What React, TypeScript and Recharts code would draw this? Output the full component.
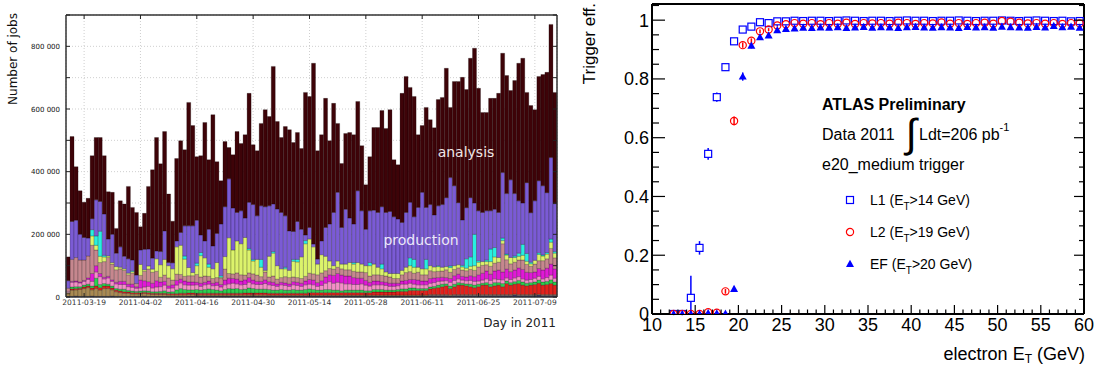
import React from "react";
import {
  Bar,
  BarChart,
  CartesianGrid,
  ErrorBar,
  Legend,
  Scatter,
  ScatterChart,
  XAxis,
  YAxis,
} from "recharts";

// ---- left panel: jobs per day (values in thousands) ----
const firstDay = Date.UTC(2011, 2, 15);
const days = Array.from({ length: 122 }, (_, i) =>
  new Date(firstDay + i * 86400000).toISOString().slice(0, 10)
);
const dayTicks = [
  "2011-03-19", "2011-04-02", "2011-04-16", "2011-04-30", "2011-05-14",
  "2011-05-28", "2011-06-11", "2011-06-25", "2011-07-09",
];
const jobTicks = [0, 100, 200, 300, 400, 500, 600, 700, 800, 900];

const totalJobs = [
  128, 512, 416, 339, 302, 315, 451, 509, 509, 451,
  336, 334, 219, 307, 297, 353, 286, 270, 224, 267,
  353, 406, 509, 425, 528, 329, 242, 442, 499, 470,
  621, 547, 448, 451, 557, 438, 582, 432, 371, 496,
  477, 454, 528, 490, 518, 650, 486, 467, 554, 598,
  576, 736, 560, 509, 544, 534, 493, 525, 474, 653,
  640, 746, 467, 518, 634, 499, 618, 554, 426, 522,
  525, 518, 624, 483, 358, 448, 541, 541, 595, 538,
  598, 438, 422, 650, 704, 669, 640, 518, 547, 605,
  566, 540, 630, 637, 730, 605, 688, 688, 701, 662,
  762, 794, 666, 589, 589, 634, 634, 650, 778, 707,
  659, 691, 746, 762, 653, 611, 598, 704, 710, 717,
  870, 653,
];

// top of the production (purple) layer
const productionTop = [
  52, 241, 245, 200, 190, 188, 250, 310, 305, 265,
  185, 200, 140, 160, 130, 122, 118, 70, 150, 152,
  153, 124, 147, 145, 211, 110, 109, 179, 206, 227,
  227, 227, 245, 198, 179, 216, 163, 203, 233, 288,
  377, 284, 270, 275, 252, 302, 295, 259, 291, 288,
  291, 297, 281, 270, 259, 211, 209, 241, 216, 198,
  222, 169, 121, 179, 222, 233, 270, 334, 222, 280,
  252, 233, 339, 275, 216, 275, 277, 270, 288, 270,
  273, 256, 249, 238, 270, 302, 256, 286, 334, 286,
  295, 262, 291, 295, 317, 381, 355, 301, 246, 285,
  317, 300, 275, 270, 275, 275, 280, 270, 397, 330,
  374, 330, 307, 300, 365, 269, 307, 371, 355, 333,
  445, 298,
];

const navyJobs = [
  2, 2, 3, 2, 2, 2, 3, 2, 2, 2,
  2, 3, 2, 2, 2, 2, 2, 2, 2, 3,
  2, 2, 2, 2, 2, 2, 2, 2, 2, 2,
  3, 3, 3, 3, 3, 3, 3, 3, 3, 3,
  3, 3, 3, 3, 3, 3, 3, 3, 3, 3,
  3, 3, 3, 3, 3, 3, 3, 3, 3, 3,
  3, 3, 3, 3, 3, 3, 3, 3, 3, 3,
  3, 3, 3, 3, 3, 3, 3, 3, 3, 3,
  3, 3, 3, 3, 3, 3, 3, 3, 3, 3,
  5, 5, 5, 5, 5, 4, 5, 5, 5, 5,
  5, 5, 5, 5, 5, 5, 5, 5, 5, 5,
  5, 6, 5, 5, 5, 5, 5, 6, 5, 5,
  5, 5,
];
const tanJobs = [
  8, 20, 20, 22, 25, 28, 20, 25, 20, 25,
  25, 20, 15, 12, 10, 10, 8, 8, 8, 8,
  8, 6, 6, 6, 6, 5, 5, 5, 5, 5,
  5, 5, 4, 4, 4, 4, 4, 4, 4, 4,
  4, 4, 4, 4, 4, 4, 4, 4, 4, 4,
  3, 3, 3, 3, 3, 3, 3, 3, 3, 3,
  3, 3, 3, 3, 3, 3, 3, 3, 3, 3,
  3, 3, 3, 3, 3, 3, 3, 3, 3, 3,
  3, 3, 3, 3, 3, 3, 3, 3, 3, 3,
  3, 3, 3, 3, 3, 3, 3, 3, 3, 3,
  3, 3, 3, 3, 3, 3, 3, 3, 3, 3,
  3, 3, 3, 3, 3, 3, 3, 3, 3, 3,
  3, 3,
];
const redJobs = [
  2, 4, 4, 4, 5, 5, 6, 8, 8, 8,
  8, 6, 5, 5, 5, 4, 4, 4, 4, 4,
  4, 4, 4, 4, 4, 4, 4, 4, 5, 5,
  5, 5, 5, 5, 5, 5, 5, 5, 5, 5,
  5, 5, 5, 5, 6, 6, 6, 6, 6, 6,
  6, 6, 6, 6, 6, 6, 6, 6, 6, 6,
  8, 8, 8, 8, 8, 8, 8, 8, 8, 8,
  8, 8, 8, 8, 8, 8, 10, 10, 10, 10,
  10, 10, 12, 12, 12, 15, 15, 15, 15, 15,
  18, 20, 22, 25, 28, 20, 25, 30, 30, 28,
  25, 22, 25, 30, 30, 25, 28, 30, 25, 35,
  30, 32, 35, 30, 28, 30, 32, 35, 30, 32,
  35, 30,
];
const greenJobs = [
  2, 6, 6, 5, 6, 6, 6, 25, 10, 8,
  6, 6, 5, 6, 8, 5, 5, 4, 5, 5,
  5, 5, 5, 6, 8, 5, 6, 12, 15, 12,
  10, 10, 12, 10, 12, 14, 12, 10, 8, 12,
  15, 14, 15, 12, 12, 16, 14, 12, 12, 12,
  12, 10, 10, 12, 10, 10, 12, 10, 10, 12,
  12, 10, 8, 8, 10, 10, 8, 8, 6, 8,
  8, 8, 8, 8, 6, 6, 8, 8, 8, 6,
  6, 6, 6, 8, 8, 8, 8, 6, 6, 6,
  6, 6, 8, 8, 6, 8, 8, 8, 6, 6,
  8, 8, 8, 6, 8, 8, 10, 8, 10, 8,
  8, 8, 10, 10, 8, 8, 8, 10, 10, 10,
  12, 10,
];
const pinkJobs = [
  4, 15, 15, 12, 12, 15, 15, 20, 25, 15,
  20, 15, 15, 15, 15, 12, 12, 10, 10, 12,
  15, 12, 15, 15, 18, 12, 12, 15, 18, 15,
  15, 15, 15, 12, 15, 15, 12, 15, 12, 15,
  15, 18, 15, 15, 15, 18, 15, 15, 15, 18,
  15, 15, 12, 15, 15, 12, 15, 15, 12, 15,
  15, 15, 12, 15, 20, 25, 22, 25, 25, 20,
  20, 18, 18, 20, 18, 15, 15, 15, 15, 15,
  12, 12, 12, 15, 15, 15, 12, 12, 12, 12,
  12, 12, 12, 10, 10, 12, 12, 12, 10, 10,
  12, 12, 10, 10, 12, 12, 12, 10, 12, 10,
  10, 12, 12, 10, 10, 10, 12, 12, 10, 12,
  15, 12,
];
const magentaJobs = [
  0, 3, 3, 3, 3, 5, 25, 20, 10, 5,
  5, 5, 5, 10, 10, 8, 10, 5, 25, 20,
  15, 15, 20, 15, 12, 8, 10, 15, 12, 12,
  10, 10, 8, 10, 8, 10, 8, 10, 8, 15,
  18, 15, 15, 12, 15, 15, 12, 10, 10, 12,
  10, 10, 8, 8, 8, 8, 10, 10, 10, 12,
  15, 15, 12, 15, 20, 22, 25, 28, 25, 25,
  25, 22, 20, 18, 15, 12, 12, 12, 10, 10,
  10, 10, 8, 10, 12, 12, 15, 15, 12, 12,
  15, 15, 12, 12, 10, 12, 15, 15, 12, 12,
  15, 15, 20, 22, 25, 20, 25, 30, 25, 28,
  25, 25, 28, 30, 25, 22, 20, 25, 28, 30,
  35, 30,
];
const rosyJobs = [
  10, 70, 75, 70, 65, 70, 90, 50, 35, 50,
  60, 50, 40, 40, 35, 30, 35, 10, 15, 30,
  40, 35, 30, 15, 20, 25, 15, 20, 15, 15,
  20, 20, 25, 20, 20, 15, 15, 15, 20, 35,
  15, 15, 20, 20, 15, 15, 20, 20, 15, 25,
  15, 20, 15, 15, 20, 20, 15, 15, 15, 15,
  20, 20, 25, 25, 20, 20, 20, 20, 20, 20,
  20, 20, 20, 20, 25, 20, 20, 20, 20, 20,
  20, 15, 15, 20, 25, 25, 20, 25, 20, 20,
  25, 20, 20, 20, 25, 20, 20, 20, 20, 20,
  20, 20, 25, 25, 20, 25, 25, 25, 90, 30,
  25, 25, 25, 30, 25, 20, 25, 25, 30, 30,
  50, 35,
];
const limeJobs = [
  0, 0, 0, 0, 0, 0, 30, 15, 20, 15,
  5, 5, 10, 5, 5, 5, 5, 0, 35, 5,
  10, 10, 40, 40, 50, 39, 36, 87, 93, 55,
  26, 10, 28, 68, 58, 29, 31, 48, 3, 40,
  114, 76, 102, 99, 120, 73, 41, 50, 30, 5,
  66, 73, 43, 28, 25, 23, 50, 50, 69, 104,
  109, 86, 34, 58, 46, 24, 11, 20, 15, 18,
  23, 23, 30, 25, 22, 33, 34, 24, 21, 13,
  11, 16, 16, 14, 17, 19, 19, 16, 19, 19,
  16, 15, 15, 12, 10, 15, 12, 10, 10, 8,
  10, 15, 15, 12, 10, 15, 20, 15, 10, 15,
  20, 15, 12, 15, 10, 8, 12, 20, 15, 15,
  20, 15,
];
const cyanJobs = [
  0, 0, 0, 0, 0, 0, 20, 30, 80, 5,
  0, 0, 0, 0, 0, 0, 3, 0, 0, 0,
  0, 0, 0, 0, 0, 0, 0, 0, 0, 10,
  0, 0, 8, 10, 0, 10, 0, 0, 5, 0,
  0, 0, 0, 0, 0, 5, 5, 0, 25, 0,
  0, 5, 0, 0, 5, 0, 6, 8, 0, 10,
  0, 0, 0, 0, 0, 0, 0, 0, 0, 0,
  0, 5, 0, 0, 0, 10, 0, 0, 15, 0,
  0, 0, 0, 0, 0, 25, 25, 0, 0, 30,
  0, 0, 3, 0, 0, 5, 0, 0, 5, 30,
  30, 100, 5, 0, 5, 40, 30, 0, 8, 3,
  0, 5, 10, 35, 25, 5, 0, 5, 3, 5,
  10, 5,
];

// ---- right panel: trigger efficiency ----
const etBins = [
  12.5, 13.5, 14.5, 15.5, 16.5, 17.5, 18.5, 19.5, 20.5, 21.5, 22.5, 23.5,
  24.5, 25.5, 26.5, 27.5, 28.5, 29.5, 30.5, 31.5, 32.5, 33.5, 34.5, 35.5,
  36.5, 37.5, 38.5, 39.5, 40.5, 41.5, 42.5, 43.5, 44.5, 45.5, 46.5, 47.5,
  48.5, 49.5, 50.5, 51.5, 52.5, 53.5, 54.5, 55.5, 56.5, 57.5, 58.5, 59.5,
];
const l1Eff = [
  0, 0, 0.055, 0.225, 0.545, 0.738, 0.84, 0.928, 0.968, 0.978, 0.993, 0.99,
  0.996, 0.996, 0.998, 0.997, 0.998, 0.998, 0.997, 0.998, 0.999, 0.998, 0.997, 0.998,
  0.998, 0.997, 0.998, 0.999, 0.998, 0.998, 0.997, 0.998, 0.998, 0.999, 0.998, 0.997,
  0.998, 0.998, 0.999, 0.998, 0.997, 0.998, 0.999, 0.998, 0.997, 0.998, 0.996, 0.997,
];
const l1Err: (number | number[])[] = [
  0.004, 0.004, [0.055, 0.075], 0.023, 0.02, 0.016, 0.012, 0.009, 0.006, 0.005, 0.004, 0.004,
  0.003, 0.003, 0.003, 0.003, 0.003, 0.003, 0.003, 0.003, 0.003, 0.003, 0.003, 0.003,
  0.003, 0.003, 0.003, 0.003, 0.003, 0.003, 0.003, 0.003, 0.003, 0.003, 0.003, 0.003,
  0.003, 0.003, 0.003, 0.003, 0.003, 0.003, 0.003, 0.003, 0.003, 0.003, 0.003, 0.003,
];
const l2Eff = [
  0, 0, 0, 0, 0.006, 0.004, 0.077, 0.657, 0.915, 0.93, 0.962, 0.968,
  0.982, 0.986, 0.99, 0.988, 0.99, 0.986, 0.99, 0.988, 0.991, 0.987, 0.99, 0.989,
  0.99, 0.988, 0.991, 0.99, 0.987, 0.99, 0.989, 0.992, 0.988, 0.99, 0.987, 0.99,
  0.991, 0.988, 0.997, 0.995, 0.991, 0.989, 0.99, 0.988, 0.99, 0.987, 0.99, 0.989,
];
const l2Err = [
  0.003, 0.003, 0.003, 0.003, 0.004, 0.004, 0.008, 0.015, 0.009, 0.008, 0.006, 0.005,
  0.004, 0.003, 0.003, 0.003, 0.003, 0.003, 0.003, 0.003, 0.003, 0.003, 0.003, 0.003,
  0.003, 0.003, 0.003, 0.003, 0.003, 0.003, 0.003, 0.003, 0.003, 0.003, 0.003, 0.003,
  0.003, 0.003, 0.003, 0.003, 0.003, 0.003, 0.003, 0.003, 0.003, 0.003, 0.003, 0.003,
];
const efEff = [
  0, 0, 0, 0, 0.003, 0.002, 0.001, 0.085, 0.808, 0.913, 0.942, 0.948,
  0.966, 0.97, 0.972, 0.974, 0.973, 0.975, 0.974, 0.976, 0.973, 0.975, 0.977, 0.974,
  0.976, 0.975, 0.973, 0.976, 0.977, 0.975, 0.974, 0.976, 0.975, 0.973, 0.977, 0.975,
  0.976, 0.974, 0.978, 0.976, 0.975, 0.974, 0.977, 0.975, 0.98, 0.976, 0.978, 0.974,
];
const efErr = [
  0.003, 0.003, 0.003, 0.003, 0.003, 0.003, 0.003, 0.008, 0.014, 0.009, 0.007, 0.006,
  0.005, 0.003, 0.003, 0.003, 0.003, 0.003, 0.003, 0.003, 0.003, 0.003, 0.003, 0.003,
  0.003, 0.003, 0.003, 0.003, 0.003, 0.003, 0.003, 0.003, 0.003, 0.003, 0.003, 0.003,
  0.003, 0.003, 0.003, 0.003, 0.003, 0.003, 0.003, 0.003, 0.003, 0.003, 0.003, 0.003,
];
const effNames = ["L1", "L2", "EF"];
const effCuts = [14, 19, 20];
const etTicks = Array.from({ length: 51 }, (_, i) => 10 + i);
const effTicks = Array.from({ length: 22 }, (_, i) => +(i * 0.05).toFixed(2));

// ---- build tables ----
const smallLayers = [
  { key: "navy", values: navyJobs, color: "#24247c" },
  { key: "tan", values: tanJobs, color: "#a98a52" },
  { key: "red", values: redJobs, color: "#e3211c" },
  { key: "green", values: greenJobs, color: "#2bd14f" },
  { key: "pink", values: pinkJobs, color: "#f48fc6" },
  { key: "magenta", values: magentaJobs, color: "#e019d6" },
  { key: "rosy", values: rosyJobs, color: "#c6878e" },
  { key: "lime", values: limeJobs, color: "#dcf36b" },
  { key: "cyan", values: cyanJobs, color: "#27efe0" },
];
const allLayers = [
  ...smallLayers.map((l) => ({ key: l.key, color: l.color })),
  { key: "production", color: "#7b5bd5" },
  { key: "analysis", color: "#3e0308" },
];

const jobRows = days.map((day, i) => {
  const row: Record<string, any> = { day };
  let below = 0;
  smallLayers.forEach((l) => {
    row[l.key] = l.values[i];
    below += l.values[i];
  });
  row.production = Math.max(productionTop[i] - below, 0);
  row.analysis = Math.max(totalJobs[i] - productionTop[i], 0);
  return row;
});

const effRows = (eff: number[], err: any[]) =>
  etBins.map((x, i) => ({ x, y: eff[i], err: err[i] }));
const l1Rows = effRows(l1Eff, l1Err);
const l2Rows = effRows(l2Eff, l2Err);
const efRows = effRows(efEff, efErr);

const DJ = "DejaVu Sans";
const LS = "Liberation Sans, Arial, sans-serif";

// ---- tick renderers (inward ticks) ----
const JobsYTick = (p: any) => {
  const v = p.payload.value;
  const ax = p.x + 6;
  return (
    <g>
      <line x1={ax} x2={ax + 4} y1={p.y} y2={p.y} stroke="#222" strokeWidth={1} />
      {v % 200 === 0 && (
        <text x={p.x} y={p.y} dy={2.5} textAnchor="end" fontSize={7} fontFamily={DJ} fill="#111">
          {v === 0 ? "0" : `${v} 000`}
        </text>
      )}
    </g>
  );
};
const JobsYRightTick = (p: any) => (
  <line x1={p.x - 4} x2={p.x} y1={p.y} y2={p.y} stroke="#222" strokeWidth={1} />
);
const DayTick = (p: any) => {
  const ay = p.y - 3;
  return (
    <g>
      <line x1={p.x} x2={p.x} y1={ay} y2={ay - 4} stroke="#222" strokeWidth={1} />
      <text x={p.x} y={p.y} dy="0.71em" textAnchor="middle" fontSize={7.5} fontFamily={DJ} fill="#333">
        {p.payload.value}
      </text>
    </g>
  );
};
const DayTopTick = (p: any) => (
  <line x1={p.x} x2={p.x} y1={p.y} y2={p.y + 4} stroke="#222" strokeWidth={1} />
);

const isMajorEt = (v: number) => v % 5 === 0;
const isMajorEff = (v: number) => Math.round(v * 100) % 20 === 0;
const EtTick = (p: any) => {
  const v = p.payload.value;
  const ay = p.y - 4;
  return (
    <g>
      <line x1={p.x} x2={p.x} y1={ay} y2={ay - (isMajorEt(v) ? 9 : 4.5)} stroke="#000" strokeWidth={1.2} />
      {isMajorEt(v) && (
        <text x={p.x} y={p.y} dy="0.71em" textAnchor="middle" fontSize={18} fontFamily={LS} fill="#000">
          {v}
        </text>
      )}
    </g>
  );
};
const EtTopTick = (p: any) => {
  const v = p.payload.value;
  return <line x1={p.x} x2={p.x} y1={p.y} y2={p.y + (isMajorEt(v) ? 9 : 4.5)} stroke="#000" strokeWidth={1.2} />;
};
const EffTick = (p: any) => {
  const v = p.payload.value;
  const ax = p.x + 3;
  const major = isMajorEff(v);
  return (
    <g>
      <line x1={ax} x2={ax + (major ? 13 : 7)} y1={p.y} y2={p.y} stroke="#000" strokeWidth={1.2} />
      {major && (
        <text x={p.x} y={p.y} dy="0.36em" textAnchor="end" fontSize={18} fontFamily={LS} fill="#000">
          {v === 0 || v === 1 ? String(v) : v.toFixed(1)}
        </text>
      )}
    </g>
  );
};
const EffRightTick = (p: any) => {
  const v = p.payload.value;
  return <line x1={p.x - (isMajorEff(v) ? 10 : 5)} x2={p.x} y1={p.y} y2={p.y} stroke="#000" strokeWidth={1.2} />;
};

// ---- markers ----
const square = (cx: number, cy: number) => (
  <rect x={cx - 3.5} y={cy - 3.5} width={7} height={7} fill="#fff" stroke="#0000ff" strokeWidth={1.2} />
);
const circle = (cx: number, cy: number) => (
  <circle cx={cx} cy={cy} r={3.6} fill="none" stroke="#ff0000" strokeWidth={1.2} />
);
const triangle = (cx: number, cy: number) => (
  <polygon points={`${cx},${cy - 4.2} ${cx - 4},${cy + 3} ${cx + 4},${cy + 3}`} fill="#0000ff" />
);
const markers = [square, circle, triangle];

const EffLegend = () => (
  <div style={{ fontFamily: LS, fontSize: 14, color: "#000" }}>
    {effNames.map((n, i) => (
      <div key={n} style={{ height: 32, display: "flex", alignItems: "center" }}>
        <svg width={14} height={14}>{markers[i](7, 7)}</svg>
        <span style={{ marginLeft: 13, whiteSpace: "nowrap" }}>
          {n} (E<span style={{ fontSize: 10, position: "relative", top: 5 }}>T</span>&gt;{effCuts[i]} GeV)
        </span>
      </div>
    ))}
  </div>
);

function JobsChart() {
  return (
    <BarChart
      width={570}
      height={340}
      data={jobRows}
      margin={{ top: 0, right: 0, bottom: 0, left: 0 }}
      barCategoryGap={0}
      barGap={0}
    >
      <CartesianGrid stroke="#cfcfcf" strokeDasharray="1 2" />
      <XAxis
        dataKey="day"
        ticks={dayTicks}
        interval={0}
        height={43}
        tickSize={0}
        tickMargin={3}
        tick={DayTick}
        axisLine={{ stroke: "#333", strokeWidth: 1.5 }}
      />
      <XAxis
        xAxisId="top"
        dataKey="day"
        orientation="top"
        ticks={dayTicks}
        interval={0}
        height={15}
        tickSize={0}
        tickMargin={0}
        tick={DayTopTick}
        axisLine={{ stroke: "#333", strokeWidth: 1.5 }}
      />
      <YAxis
        type="number"
        domain={[0, 900]}
        ticks={jobTicks}
        interval={0}
        width={66}
        tickSize={0}
        tickMargin={6}
        tick={JobsYTick}
        allowDataOverflow
        axisLine={{ stroke: "#333", strokeWidth: 1.5 }}
      />
      <YAxis
        yAxisId="r"
        orientation="right"
        type="number"
        domain={[0, 900]}
        ticks={jobTicks}
        interval={0}
        width={13}
        tickSize={0}
        tickMargin={0}
        tick={JobsYRightTick}
        allowDataOverflow
        axisLine={{ stroke: "#333", strokeWidth: 1.5 }}
      />
      {allLayers.map((l) => (
        <Bar
          key={l.key}
          dataKey={l.key}
          stackId="jobs"
          fill={l.color}
          stroke="#000"
          strokeOpacity={0.45}
          strokeWidth={0.5}
          isAnimationActive={false}
        />
      ))}
    </BarChart>
  );
}

function EffChart() {
  return (
    <ScatterChart width={535} height={366} margin={{ top: 3, right: 10, bottom: 0, left: 0 }}>
      <XAxis
        dataKey="x"
        type="number"
        domain={[10, 60]}
        ticks={etTicks}
        interval={0}
        height={52}
        tickSize={0}
        tickMargin={4}
        tick={EtTick}
        allowDataOverflow
        axisLine={{ stroke: "#000", strokeWidth: 2 }}
      />
      <XAxis
        xAxisId="top"
        orientation="top"
        type="number"
        domain={[10, 60]}
        ticks={etTicks}
        interval={0}
        height={1}
        tickSize={0}
        tickMargin={0}
        tick={EtTopTick}
        allowDataOverflow
        axisLine={{ stroke: "#000", strokeWidth: 2 }}
      />
      <YAxis
        dataKey="y"
        type="number"
        domain={[0, 1.055]}
        ticks={effTicks}
        interval={0}
        width={92}
        tickSize={0}
        tickMargin={3}
        tick={EffTick}
        allowDataOverflow
        axisLine={{ stroke: "#000", strokeWidth: 2 }}
      />
      <YAxis
        yAxisId="r"
        orientation="right"
        type="number"
        domain={[0, 1.055]}
        ticks={effTicks}
        interval={0}
        width={1}
        tickSize={0}
        tickMargin={0}
        tick={EffRightTick}
        allowDataOverflow
        axisLine={{ stroke: "#000", strokeWidth: 2 }}
      />
      <Legend
        content={EffLegend}
        layout="horizontal"
        verticalAlign="middle"
        align="center"
        wrapperStyle={{ left: 283, top: 184, width: 170 }}
      />
      <Scatter data={l1Rows} shape={(p: any) => square(p.cx, p.cy)} isAnimationActive={false}>
        <ErrorBar dataKey="err" direction="y" width={0} stroke="#0000ff" strokeWidth={1.5} isAnimationActive={false} />
      </Scatter>
      <Scatter data={l2Rows} shape={(p: any) => circle(p.cx, p.cy)} isAnimationActive={false}>
        <ErrorBar dataKey="err" direction="y" width={0} stroke="#ff0000" strokeWidth={1.5} isAnimationActive={false} />
      </Scatter>
      <Scatter data={efRows} shape={(p: any) => triangle(p.cx, p.cy)} isAnimationActive={false}>
        <ErrorBar dataKey="err" direction="y" width={0} stroke="#0000ff" strokeWidth={1.5} isAnimationActive={false} />
      </Scatter>
    </ScatterChart>
  );
}

export default function App() {
  return (
    <div style={{ position: "absolute", left: 0, top: 0, width: 1095, height: 366, background: "#fff", overflow: "hidden" }}>
      <div style={{ position: "absolute", left: 0, top: 0 }}>
        <JobsChart />
      </div>
      <div style={{ position: "absolute", left: 560, top: 0 }}>
        <EffChart />
      </div>
      <svg width={1095} height={366} style={{ position: "absolute", left: 0, top: 0, pointerEvents: "none" }}>
        <text transform="translate(17,13) rotate(-90)" textAnchor="end" fontSize={12} fontFamily={DJ} fill="#111">
          Number of jobs
        </text>
        <text x={556} y={327} textAnchor="end" fontSize={12} fontFamily={DJ} fill="#222">
          Day in 2011
        </text>
        <text x={466} y={157} textAnchor="middle" fontSize={14} fontFamily={DJ} fill="#f0e6e6">
          analysis
        </text>
        <text x={421} y={245} textAnchor="middle" fontSize={14} fontFamily={DJ} fill="#ece8f8">
          production
        </text>

        <text transform="translate(595,3) rotate(-90)" textAnchor="end" fontSize={17} fontFamily={LS} fill="#000">
          Trigger eff.
        </text>
        <text x={1085} y={360} textAnchor="end" fontSize={18} fontFamily={LS} fill="#000">
          electron E<tspan fontSize={12} dy={3}>T</tspan>
          <tspan dy={-3}> (GeV)</tspan>
        </text>
        <text x={822} y={110} fontSize={16} fontWeight="bold" fontFamily={LS} fill="#000">
          ATLAS Preliminary
        </text>
        <text x={822} y={140} fontSize={16} fontFamily={LS} fill="#000">
          Data 2011
        </text>
        <text x={911} y={147} textAnchor="middle" fontSize={40} fontFamily={LS} fill="#000">
          ∫
        </text>
        <text x={919} y={140} fontSize={16} fontFamily={LS} fill="#000">
          Ldt=206 pb<tspan fontSize={11} dy={-9}>-1</tspan>
        </text>
        <text x={822} y={170} fontSize={16} fontFamily={LS} fill="#000">
          e20_medium trigger
        </text>
      </svg>
    </div>
  );
}
